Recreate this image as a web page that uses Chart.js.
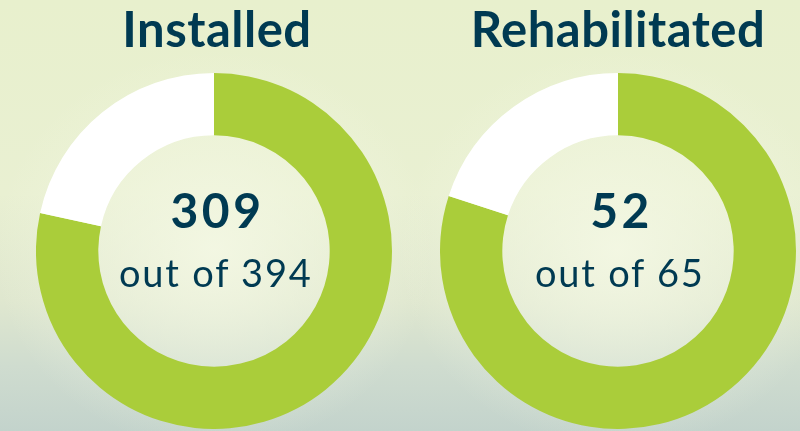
<!DOCTYPE html>
<html>
<head>
<meta charset="utf-8">
<script src="https://cdn.jsdelivr.net/npm/chart.js@4/dist/chart.umd.min.js"></script>
<style>
  html, body { margin: 0; padding: 0; }
  body {
    width: 800px; height: 431px; overflow: hidden; position: relative;
    font-family: Lato, "Open Sans", sans-serif;
    background:
      radial-gradient(ellipse 220px 200px at 214px 250px, rgba(244,248,228,0.9), rgba(244,248,228,0) 100%),
      radial-gradient(ellipse 220px 200px at 618px 250px, rgba(244,248,228,0.9), rgba(244,248,228,0) 100%),
      linear-gradient(to bottom, #e8f0cd 0%, #e9f0d2 45%, #dfe7cf 70%, #cfdccf 85%, #c3d3cc 100%);
  }
  .title {
    position: absolute; top: 0; width: 400px; text-align: center;
    font-weight: 700; font-size: 49px; line-height: 56px; color: #003a52;
    letter-spacing: 0.5px;
  }
  .chart { position: absolute; top: 73px; width: 356px; height: 356px; }
  .big, .small {
    position: absolute; width: 260px; text-align: center; color: #003a52; white-space: nowrap;
  }
  .big { top: 185px; font-weight: 700; font-size: 48px; line-height: 50px; letter-spacing: 3.5px; padding-left: 3.5px; }
  .small { top: 250px; font-size: 38px; line-height: 44px; letter-spacing: 1.8px; padding-left: 1.8px; }
</style>
</head>
<body>
<div class="title" style="left:17px">Installed</div>
<div class="title" style="left:418px">Rehabilitated</div>
<canvas id="installedChart" class="chart" width="356" height="356" style="left:36px"></canvas>
<canvas id="rehabChart" class="chart" width="356" height="356" style="left:440px"></canvas>
<div class="big" id="installedBig" style="left:84px"></div>
<div class="small" id="installedSmall" style="left:84px"></div>
<div class="big" id="rehabBig" style="left:488px"></div>
<div class="small" id="rehabSmall" style="left:488px"></div>
<script>
const titles = ['Installed', 'Rehabilitated'];
const done = [309, 52];
const totals = [394, 65];
const ids = ['installed', 'rehab'];

function createRing(i) {
    const ctx = document.getElementById(ids[i] + 'Chart').getContext('2d');
    new Chart(ctx, {
        type: 'doughnut',
        data: {
            labels: [titles[i], 'Remaining'],
            datasets: [{
                data: [done[i], totals[i] - done[i]],
                backgroundColor: ['#aacd3a', '#ffffff'],
                borderWidth: 0
            }]
        },
        options: {
            responsive: false,
            animation: false,
            cutout: '65%',
            plugins: { legend: { display: false }, tooltip: { enabled: false } }
        }
    });
    document.getElementById(ids[i] + 'Big').textContent = done[i];
    document.getElementById(ids[i] + 'Small').textContent = 'out of ' + totals[i];
}

document.addEventListener('DOMContentLoaded', () => {
    createRing(0);
    createRing(1);
});
</script>
</body>
</html>
